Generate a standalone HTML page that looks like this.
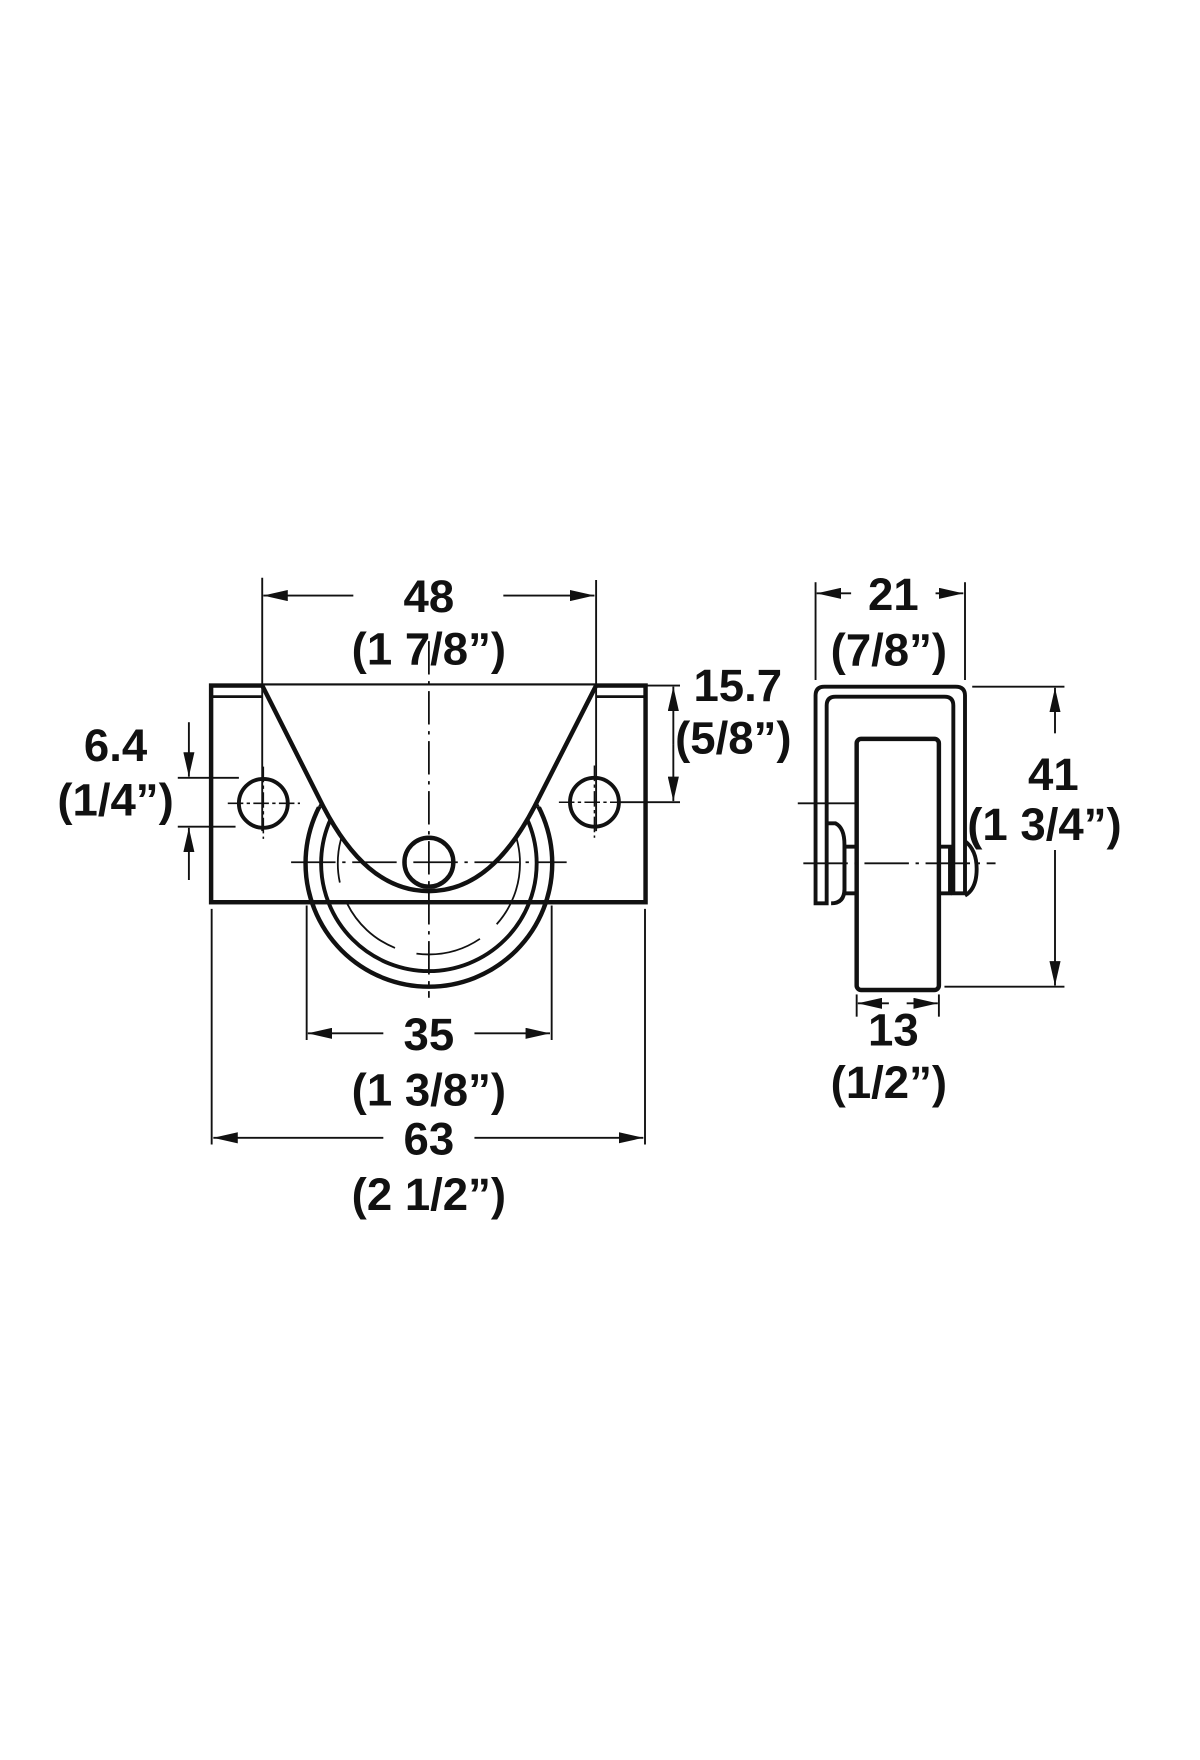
<!DOCTYPE html>
<html><head><meta charset="utf-8"><style>
html,body{margin:0;padding:0;background:#fff;}
svg{display:block;}
text{font-family:"Liberation Sans",Arial,sans-serif;font-weight:bold;font-size:41px;fill:#111;text-anchor:middle;}
</style></head><body>
<svg width="1200" height="1760" viewBox="0 0 1080 1584" xmlns="http://www.w3.org/2000/svg">
<defs>
<marker id="a" viewBox="0 0 22 10" refX="22" refY="5" markerWidth="22" markerHeight="10" markerUnits="userSpaceOnUse" orient="auto"><path d="M0,0 L22,5 L0,10 Z" fill="#111"/></marker>
<clipPath id="lo"><rect x="0" y="726" width="1080" height="400"/></clipPath>
<clipPath id="hi"><rect x="0" y="0" width="1080" height="726"/></clipPath>
</defs>
<g stroke="#111" fill="none">
<rect x="190" y="617" width="391" height="195" stroke-width="4" fill="#fff"/>
<line x1="190" y1="627" x2="236" y2="627" stroke-width="2.5"/>
<line x1="536" y1="627" x2="581" y2="627" stroke-width="2.5"/>
<circle cx="237" cy="723" r="22" stroke-width="3.5"/>
<circle cx="535" cy="722" r="22" stroke-width="3.5"/>
<g stroke-width="1.4">
<line x1="205" y1="723" x2="270" y2="723" stroke-dasharray="14,3,3,3"/>
<line x1="237" y1="690" x2="237" y2="755" stroke-dasharray="14,3,3,3"/>
<line x1="503" y1="722" x2="568" y2="722" stroke-dasharray="14,3,3,3"/>
<line x1="535" y1="689" x2="535" y2="754" stroke-dasharray="14,3,3,3"/>
</g>
<g clip-path="url(#hi)"><circle cx="386" cy="777" r="111" stroke-width="2.2" stroke-dasharray="30,18"/></g>
<g clip-path="url(#lo)">
<circle cx="386" cy="777" r="111" stroke-width="4"/>
<circle cx="386" cy="777" r="97" stroke-width="3.5"/>
<circle cx="386" cy="777" r="82" stroke-width="1.6" stroke-dasharray="60,20"/>
</g>
<path d="M236,617 L291,726 C315,772 345,802 386,802 C427,802 457,772 481,726 L536.5,617" stroke-width="4" fill="#fff"/>
<circle cx="386" cy="776" r="22" stroke-width="4"/>
<line x1="262" y1="776" x2="510" y2="776" stroke-width="1.6" stroke-dasharray="40,6,3,6"/>
<line x1="386" y1="577" x2="386" y2="898" stroke-width="1.6" stroke-dasharray="30,6,3,6"/>
<g stroke-width="1.7">
<line x1="236" y1="520" x2="236" y2="748"/>
<line x1="536.5" y1="522" x2="536.5" y2="748"/>
<line x1="318" y1="536" x2="237" y2="536" marker-end="url(#a)"/>
<line x1="453" y1="536" x2="535" y2="536" marker-end="url(#a)"/>
<line x1="562" y1="617" x2="612" y2="617"/>
<line x1="558" y1="722" x2="612" y2="722"/>
<line x1="606" y1="670" x2="606" y2="618" marker-end="url(#a)"/>
<line x1="606" y1="670" x2="606" y2="721" marker-end="url(#a)"/>
<line x1="160" y1="700" x2="215" y2="700"/>
<line x1="160" y1="744" x2="212" y2="744"/>
<line x1="170" y1="650" x2="170" y2="699" marker-end="url(#a)"/>
<line x1="170" y1="792" x2="170" y2="745" marker-end="url(#a)"/>
<line x1="276" y1="815" x2="276" y2="936"/>
<line x1="496.5" y1="815" x2="496.5" y2="936"/>
<line x1="345" y1="930" x2="277" y2="930" marker-end="url(#a)"/>
<line x1="427" y1="930" x2="495" y2="930" marker-end="url(#a)"/>
<line x1="190.5" y1="818" x2="190.5" y2="1030"/>
<line x1="580.5" y1="818" x2="580.5" y2="1030"/>
<line x1="345" y1="1024" x2="192" y2="1024" marker-end="url(#a)"/>
<line x1="427" y1="1024" x2="579" y2="1024" marker-end="url(#a)"/>
</g>
<path d="M734,813 L734,626 Q734,618 742,618 L860,618 Q868.5,618 868.5,626 L868.5,804 L858,804 L858,635 Q858,627 850,627 L752,627 Q744,627 744,635 L744,813 Z" stroke-width="3.5" fill="#fff"/>
<path d="M744,741 L752,741 Q760,745 760,760 L760,800 Q760,813 748,813" stroke-width="3.5"/>
<rect x="760" y="762" width="11" height="42" stroke-width="3.5"/>
<rect x="845" y="762" width="10" height="42" stroke-width="3.5"/>
<path d="M868.5,757 Q879,765 879,782 Q879,800 868.5,806" stroke-width="3.5"/>
<rect x="771" y="665" width="74" height="226" rx="4" stroke-width="4" fill="#fff"/>
<g stroke-width="1.7">
<line x1="723" y1="777" x2="896" y2="777" stroke-dasharray="40,6,3,6"/>
<line x1="718" y1="723" x2="772" y2="723"/>
<line x1="734" y1="524" x2="734" y2="612"/>
<line x1="868.5" y1="524" x2="868.5" y2="612"/>
<line x1="766" y1="534" x2="735" y2="534" marker-end="url(#a)"/>
<line x1="842" y1="534" x2="867" y2="534" marker-end="url(#a)"/>
<line x1="875" y1="618" x2="958" y2="618"/>
<line x1="850" y1="888" x2="958" y2="888"/>
<line x1="949.5" y1="660" x2="949.5" y2="619" marker-end="url(#a)"/>
<line x1="949.5" y1="765" x2="949.5" y2="887" marker-end="url(#a)"/>
<line x1="771" y1="895" x2="771" y2="915"/>
<line x1="845" y1="895" x2="845" y2="915"/>
<line x1="800" y1="903" x2="772" y2="903" marker-end="url(#a)"/>
<line x1="816" y1="903" x2="844" y2="903" marker-end="url(#a)"/>
</g>
</g>
<text x="386" y="551">48</text>
<text x="386" y="598">(1 7/8”)</text>
<text x="664" y="631">15.7</text>
<text x="660" y="678">(5/8”)</text>
<text x="104" y="685">6.4</text>
<text x="104" y="734">(1/4”)</text>
<text x="386" y="945">35</text>
<text x="386" y="995">(1 3/8”)</text>
<text x="386" y="1039">63</text>
<text x="386" y="1089">(2 1/2”)</text>
<text x="804" y="549">21</text>
<text x="800" y="599">(7/8”)</text>
<text x="948" y="711">41</text>
<text x="940" y="756">(1 3/4”)</text>
<text x="804" y="941">13</text>
<text x="800" y="988">(1/2”)</text>
</svg>
</body></html>
